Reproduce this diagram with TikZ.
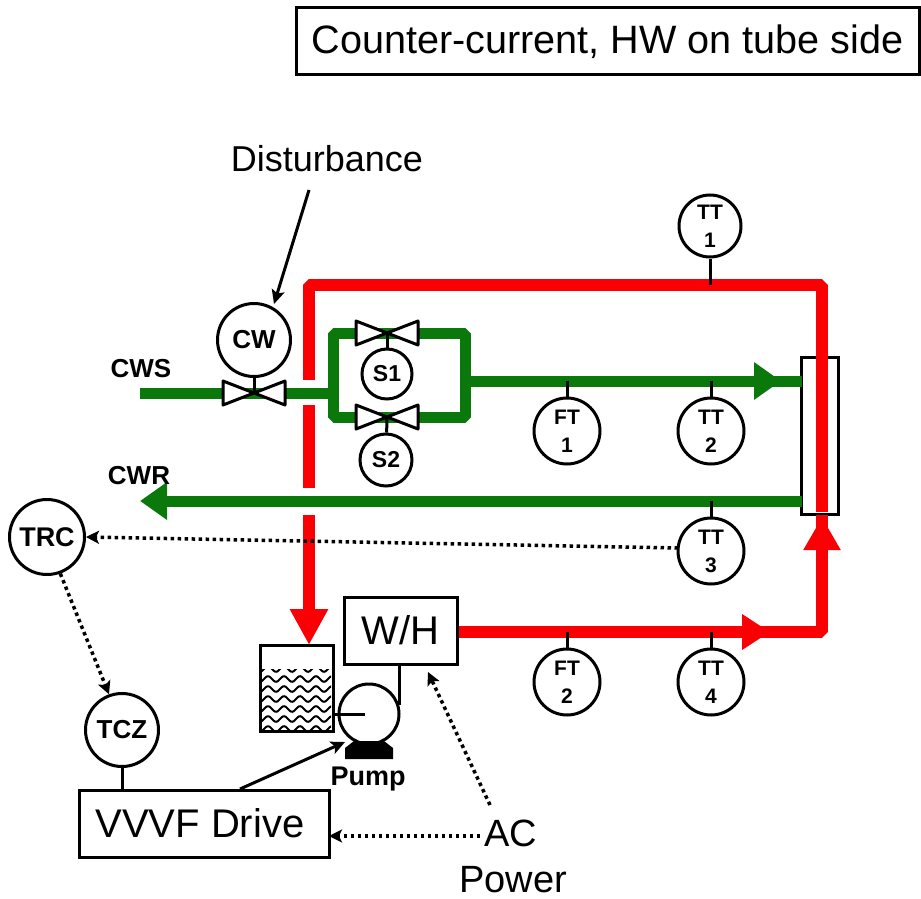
\documentclass[tikz,border=0pt]{standalone}
\usepackage{fontspec}
\setmainfont{Liberation Sans}
\usetikzlibrary{arrows.meta}
\definecolor{pipegreen}{RGB}{10,120,10}
\definecolor{pipered}{RGB}{250,0,5}
\newcommand{\fs}[1]{\fontsize{#1}{#1}\selectfont}
\newcommand{\valveshape}[1]{\draw[thinline,fill=white,line join=round] ([shift={(-31,-12)}]#1) -- ([shift={(31,12)}]#1) -- ([shift={(31,-12)}]#1) -- ([shift={(-31,12)}]#1) -- cycle;}
\tikzset{
  x=1pt,y=-1pt,
  thinline/.style={draw=black,line width=3pt},
  greenpipe/.style={draw=pipegreen,line width=11pt,line join=bevel},
  redpipe/.style={draw=pipered,line width=11.5pt,line join=bevel},
  gtip/.style={-{Triangle[length=27pt,width=36pt]}},
  rtip/.style={-{Triangle[length=33pt,width=35pt]}},
  rtiptank/.style={-{Triangle[length=36pt,width=36pt]}},
  rtiph/.style={-{Triangle[length=28pt,width=34pt]}},
  inst/.style={circle,draw=black,line width=3pt,fill=white,inner sep=0pt,align=center},
  tag/.style={inst,minimum size=66pt,font=\fs{21}\bfseries,execute at begin node={\baselineskip=28pt}},
  bigtag/.style={inst,minimum size=73pt,font=\fs{26}\bfseries},
  smalltag/.style={inst,minimum size=50pt,font=\fs{23}\bfseries},
  boxn/.style={rectangle,draw=black,line width=3pt,fill=white,inner sep=0pt,align=center},
  sig/.style={draw=black,line width=3.5pt,dash pattern=on 3.5pt off 3.5pt,-{Stealth[length=13pt,width=13pt,inset=3pt]}},
  solidarrow/.style={draw=black,line width=3pt,-{Stealth[length=14pt,width=13pt,inset=3pt]}},
  lbl/.style={inner sep=0pt,text=black},
}
\begin{document}
\begin{tikzpicture}
\useasboundingbox (0,0) rectangle (921,899);
% title
\node[boxn,minimum width=623pt,minimum height=67pt,font=\fs{39.6}] (title) at (607.5,41.5) {Counter-current, HW on tube side};
\node[lbl,font=\fs{36}] (dist) at (327,159) {Disturbance};
% coordinates
\coordinate (cwvalve) at (254,393);
\coordinate (s1valve) at (387,333);
\coordinate (s2valve) at (387,417);
\coordinate (cwsstart) at (140,393);
\coordinate (jl) at (333,393);
\coordinate (jr) at (465,381);
\coordinate (ri) at (802,381);
\coordinate (rr) at (802,501);
\coordinate (cwrtip) at (140,501);
\coordinate (tri) at (309,285);
\coordinate (tre) at (822,285);
% exchanger
\node[boxn,minimum width=37pt,minimum height=157pt] (hx) at (819.5,435.5) {};
% green pipes
\draw[greenpipe] (cwsstart) -- (jl);
\draw[greenpipe] (s1valve) -| (jl) |- (s2valve) -| (465,333) -- (s1valve);
\draw[greenpipe] (jr) -- (ri);
\draw[greenpipe,gtip] (jr) -- (781,381);
\draw[greenpipe,gtip] (rr) -- (cwrtip);
% red pipes
\draw[redpipe] (309,380) -- (tri) -- (tre) -- (822,512);
\draw[redpipe] (309,405) -- (309,488);
\draw[redpipe,rtiptank] (309,515) -- (309,645);
\draw[redpipe] (457,632) -- (822,632) -- (822,515);
\draw[redpipe,rtiph] (600,632) -- (770,632);
\draw[redpipe,rtip] (822,632) -- (822,517);
% valves
\valveshape{cwvalve}
\valveshape{s1valve}
\valveshape{s2valve}
% instruments
\node[bigtag] (cw) at (254,340) {CW};
\node[smalltag] (s1) at (387,374) {S1};
\node[smalltag,minimum size=52pt] (s2) at (386,460) {S2};
\node[tag,minimum size=62pt] (tt1) at (710,226) {TT\\1};
\node[tag] (ft1) at (567,431) {FT\\1};
\node[tag] (tt2) at (711,431) {TT\\2};
\node[tag] (tt3) at (711,551) {TT\\3};
\node[tag] (ft2) at (567,682) {FT\\2};
\node[tag] (tt4) at (711,682) {TT\\4};
\node[bigtag,minimum size=75pt,font=\fs{27}\bfseries] (trc) at (47,537) {TRC};
\node[bigtag] (tcz) at (122,730) {TCZ};
\draw[thinline] (cw) -- (cwvalve);
\draw[thinline] (s1) -- (s1valve);
\draw[thinline] (s2) -- (s2valve);
\coordinate (tt1p) at (710,285);
\coordinate (ft1p) at (567,381);
\coordinate (tt2p) at (711,381);
\coordinate (tt3p) at (711,501);
\coordinate (ft2p) at (567,632);
\coordinate (tt4p) at (711,632);
\draw[thinline] (tt1) -- (tt1p);
\draw[thinline] (ft1) -- (ft1p);
\draw[thinline] (tt2) -- (tt2p);
\draw[thinline] (tt3) -- (tt3p);
\draw[thinline] (ft2) -- (ft2p);
\draw[thinline] (tt4) -- (tt4p);
% boxes
\node[boxn,minimum width=113pt,minimum height=67pt,font=\fs{40}] (wh) at (400.5,630.5) {W/H};
\node[boxn,minimum width=250pt,minimum height=67pt,font=\fs{40}] (vvvf) at (204,823.5) {VVVF Drive\hspace{8pt}};
% tank
\begin{scope}
\clip (262,669) rectangle (331,729);
\foreach \yy in {669,679,689,699,709,719,729}{
  \draw[black,line width=2pt] plot[domain=258:336,samples=60,smooth] (\x,{\yy+2.8*sin(\x*22.5)});
}
\end{scope}
\node[boxn,fill=none,minimum width=73pt,minimum height=86pt] (tank) at (296.5,688) {};
% pump
\coordinate (whout) at (399,664);
\coordinate (pumpout) at (399,705);
\draw[thinline] (whout) -- (pumpout);
\node[inst,minimum size=60pt,fill=none] (pump) at (369,714) {};
\coordinate (suction) at (365,714);
\draw[thinline] (tank.east |- suction) -- (suction);
\fill[black] (354,741) -- (384,741) -- (393,748) -- (393,759) -- (345,759) -- (345,748) -- cycle;
\node[lbl,font=\fs{27}\bfseries] (pumpl) at (368,779) {Pump};
% text labels
\node[lbl,font=\fs{26}\bfseries] (cws) at (141,369) {CWS};
\node[lbl,font=\fs{26}\bfseries] (cwr) at (139,476) {CWR};
\node[lbl,font=\fs{38}] (ac) at (511,833) {AC};
\node[lbl,font=\fs{38},anchor=base] (power) at (513,892) {Power};
% arrows
\coordinate (diststart) at (309,190);
\coordinate (cwtop) at (274,304);
\draw[solidarrow] (diststart) -- (cwtop);
\coordinate (tt3out) at (678,548);
\draw[sig] (tt3out) -- (trc.east);
\draw[sig] (trc.-70) -- (tcz.110);
\draw[thinline] (tcz) -- (tcz |- vvvf.north);
\coordinate (pumpin) at (345,742);
\coordinate (vvvfout) at (240,789);
\draw[solidarrow] (vvvfout) -- (pumpin);
\coordinate (whin) at (428,672);
\coordinate (acout) at (490,805);
\draw[sig] (acout) -- (whin);
\coordinate (acleft) at (480,836);
\coordinate (vvvfin) at (329,836);
\draw[sig] (acleft) -- (vvvfin);
\end{tikzpicture}
\end{document}
